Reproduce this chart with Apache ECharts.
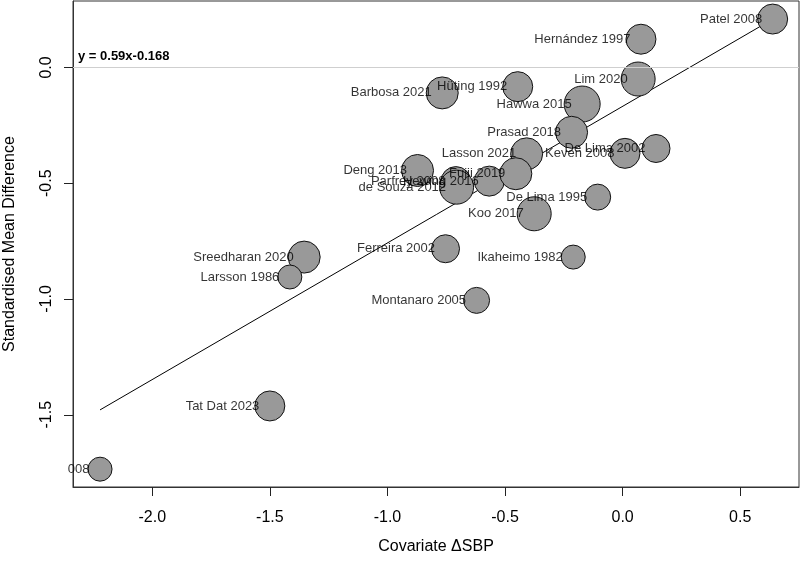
<!DOCTYPE html>
<html>
<head>
<meta charset="utf-8">
<script src="https://cdn.jsdelivr.net/npm/echarts@6/dist/echarts.min.js"></script>
<style>
  html, body { margin: 0; padding: 0; background: #fff; }
  #chart { width: 800px; height: 561px; }
</style>
</head>
<body>
<div id="chart"></div>
<script>
// study labels, covariate (x), SMD (y), bubble weight
const studies = [
    'Patel 2008', 'Hernández 1997', 'Lim 2020', 'Hüting 1992', 'Barbosa 2021',
    'Hawwa 2015', 'Prasad 2018', 'Lasson 2021', 'Keven 2008', 'De Lima 2002',
    'Deng 2013', 'Parfrey 2008', 'de Souza 2012', 'Hewing 2016', 'Fujii 2019',
    'Koo 2017', 'De Lima 1995', 'Ferreira 2002', 'Ikaheimo 1982', 'Sreedharan 2020',
    'Larsson 1986', 'Montanaro 2005', 'Tat Dat 2023', '008'
];
const deltaSBP = [
    0.638, 0.078, 0.066, -0.446, -0.767,
    -0.172, -0.217, -0.408, 0.010, 0.142,
    -0.872, -0.709, -0.706, -0.567, -0.454,
    -0.376, -0.106, -0.753, -0.210, -1.354,
    -1.415, -0.621, -1.500, -2.222
];
const smd = [
    0.209, 0.122, -0.050, -0.083, -0.110,
    -0.158, -0.280, -0.373, -0.371, -0.350,
    -0.445, -0.493, -0.517, -0.491, -0.459,
    -0.632, -0.560, -0.783, -0.819, -0.819,
    -0.905, -1.006, -1.462, -1.735
];
const weights = [
    15, 15, 17, 15, 16,
    18, 16, 16, 15, 14,
    16, 15, 17, 15, 16,
    17, 13, 14, 12, 16,
    12, 13, 15, 12
];
const xTicks = [-2.0, -1.5, -1.0, -0.5, 0.0, 0.5];
const yTicks = [-1.5, -1.0, -0.5, 0.0];
const slope = 0.59;
const intercept = -0.168;

const points = studies.map((name, i) => ({
    name: name,
    value: [deltaSBP[i], smd[i], weights[i]]
}));

const xMin = Math.min(...deltaSBP);
const xMax = Math.max(...deltaSBP);
const fitLine = [
    [xMin, slope * xMin + intercept],
    [xMax, slope * xMax + intercept]
];

const axisFont = { fontFamily: 'Liberation Sans', fontSize: 16, color: '#000' };

const chart = echarts.init(document.getElementById('chart'));
const option = {
    animation: false,
    grid: {
        left: 73, right: 1, top: 1, bottom: 74,
        containLabel: false,
        outerBoundsMode: 'none',
        show: true, borderColor: '#333', borderWidth: 1
    },
    xAxis: {
        type: 'value',
        min: -2.337,
        max: 0.750,
        name: 'Covariate ΔSBP',
        nameLocation: 'middle',
        nameGap: 52,
        nameTextStyle: axisFont,
        splitLine: { show: false },
        axisLine: { onZero: false, lineStyle: { color: '#333', width: 1 } },
        axisTick: { show: true, customValues: xTicks, length: 9, lineStyle: { color: '#222', width: 1 } },
        axisLabel: Object.assign({
            customValues: xTicks,
            margin: 23,
            formatter: v => v.toFixed(1)
        }, axisFont)
    },
    yAxis: {
        type: 'value',
        min: -1.812,
        max: 0.287,
        name: 'Standardised Mean Difference',
        nameLocation: 'middle',
        nameGap: 55,
        nameRotate: 90,
        nameTextStyle: axisFont,
        splitLine: { show: false },
        axisLine: { show: true, onZero: false, lineStyle: { color: '#333', width: 1 } },
        axisTick: { show: true, customValues: yTicks, length: 9, lineStyle: { color: '#222', width: 1 } },
        axisLabel: Object.assign({
            customValues: yTicks,
            rotate: 90,
            margin: 18,
            formatter: v => v.toFixed(1)
        }, axisFont)
    },
    graphic: [{
        type: 'text',
        left: 78,
        top: 50,
        style: {
            text: 'y = 0.59x-0.168',
            font: 'bold 13px "Liberation Sans"',
            fill: '#000'
        }
    }],
    series: [
        {
            type: 'line',
            data: fitLine,
            symbol: 'none',
            lineStyle: { color: '#000', width: 1 },
            z: 2,
            markLine: {
                silent: true,
                symbol: 'none',
                label: { show: false },
                lineStyle: { color: '#cfcfcf', width: 1, type: 'solid' },
                data: [{ yAxis: 0 }]
            }
        },
        {
            type: 'scatter',
            data: points,
            symbolSize: d => d[2] * 2,
            itemStyle: { color: '#999999', borderColor: '#111', borderWidth: 1, opacity: 1 },
            z: 3
        },
        {
            // study names, written left of each bubble centre
            type: 'scatter',
            data: points,
            symbolSize: 1,
            itemStyle: { color: 'rgba(0,0,0,0)' },
            label: {
                show: true,
                position: 'left',
                distance: 10,
                formatter: p => p.name,
                fontFamily: 'Liberation Sans',
                fontSize: 13,
                color: '#000'
            },
            labelLayout: { hideOverlap: false },
            silent: true,
            z: 4
        }
    ]
};
chart.setOption(option);
</script>
</body>
</html>
